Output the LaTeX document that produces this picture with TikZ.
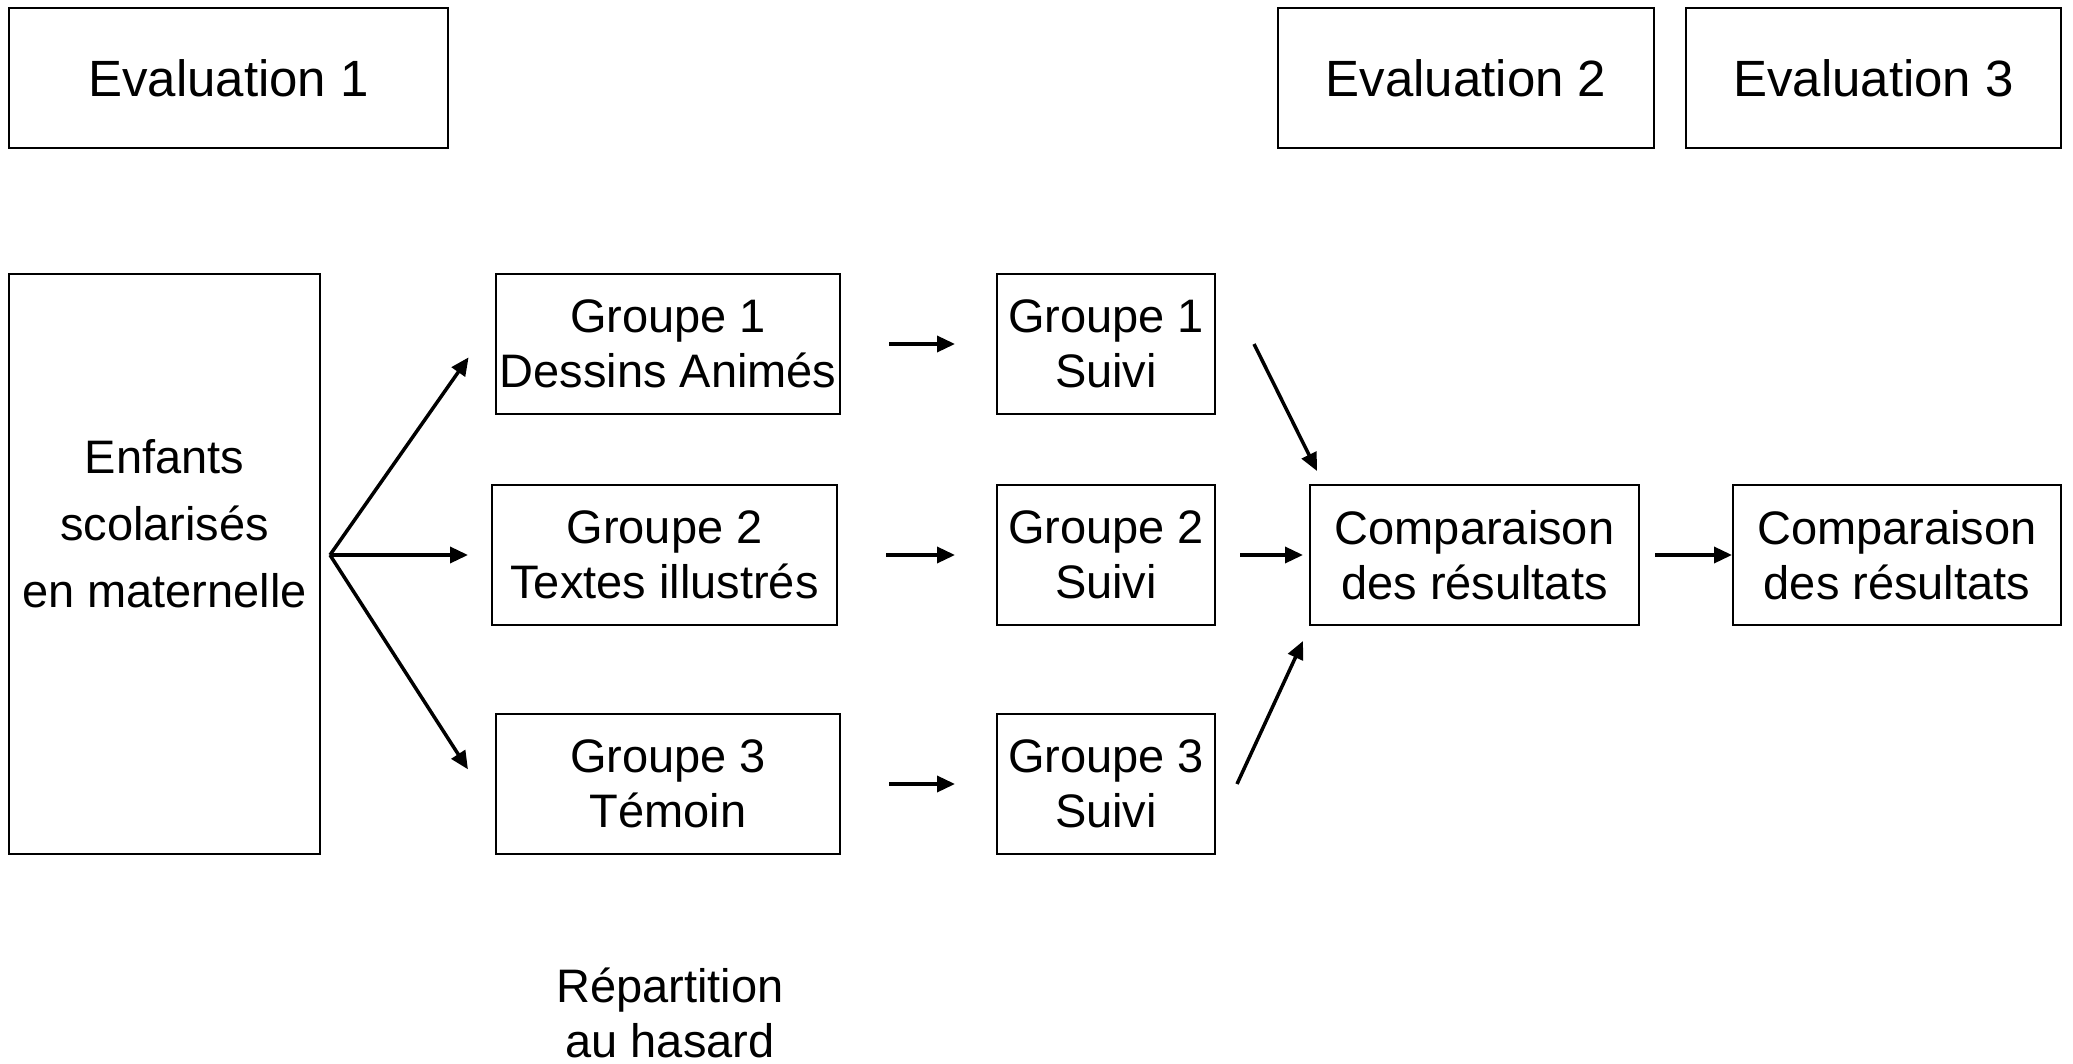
\documentclass[tikz,border=0pt]{standalone}
\usepackage{fontspec}
\setmainfont{Liberation Sans}
\usetikzlibrary{arrows.meta}

\begin{document}
\begin{tikzpicture}[x=0.5pt,y=-0.5pt,
    box/.style={draw, line width=1pt, inner sep=0pt, align=center,
        font=\fontsize{23.5}{27.75}\selectfont, minimum height=70pt},
    evalbox/.style={box, font=\fontsize{25.5}{30}\selectfont},
    arr/.style={line width=1.75pt, -{Triangle[length=9pt,width=8pt]}}]
    \useasboundingbox (0,0) rectangle (2073,1064);
    % Evaluations
    \node[evalbox, minimum width=219.5pt] (eval1) at (228.5,78) {Evaluation 1};
    \node[evalbox, minimum width=188pt] (eval2) at (1466,78) {Evaluation 2};
    \node[evalbox, minimum width=187.5pt] (eval3) at (1873.5,78) {Evaluation 3};
    % Children
    \node[box, minimum width=155.5pt, minimum height=290pt, text depth=41pt,
        font=\fontsize{23.5}{33.5}\selectfont] (enf) at (164.5,564)
        {Enfants\\scolarisés\\en maternelle};
    % Groups
    \node[box, minimum width=172pt] (g1) at (668,344) {Groupe 1\\Dessins Animés};
    \node[box, minimum width=172.5pt] (g2) at (664.5,555) {Groupe 2\\Textes illustrés};
    \node[box, minimum width=172pt] (g3) at (668,784) {Groupe 3\\Témoin};
    \node[align=center, font=\fontsize{23.5}{27.75}\selectfont] (rep) at (670,1013)
        {Répartition\\au hasard};
    % Follow-up
    \foreach \y [count=\i] in {344,555,784} {
        \node[box, minimum width=109pt] (s\i) at (1106,\y) {Groupe \i\\Suivi};
        \draw[arr, shorten <=24pt, shorten >=20.5pt] (g\i.east) -- (s\i.west);
    }
    % Comparisons
    \node[box, minimum width=164.5pt] (c1) at (1474.5,555) {Comparaison\\des résultats};
    \node[box, minimum width=164pt] (c2) at (1897,555) {Comparaison\\des résultats};
    % Random split
    \coordinate (fan) at (330,555);
    \draw[arr, shorten >=23pt] (fan) -- (g1.172);
    \draw[arr, shorten >=11.5pt] (fan) -- (g2.west);
    \draw[arr, shorten >=25pt] (fan) -- (g3.189);
    % To comparison
    \draw[arr] ([xshift=19pt]s1.east) -- ([shift={(4pt,6.5pt)}]c1.north west);
    \draw[arr, shorten <=12pt, shorten >=3pt] (s2.east) -- (c1.west);
    \draw[arr] ([xshift=10.5pt]s3.east) -- ([shift={(-3pt,-7.5pt)}]c1.south west);
    \draw[arr, shorten <=7.5pt] (c1.east) -- (c2.west);
\end{tikzpicture}
\end{document}
